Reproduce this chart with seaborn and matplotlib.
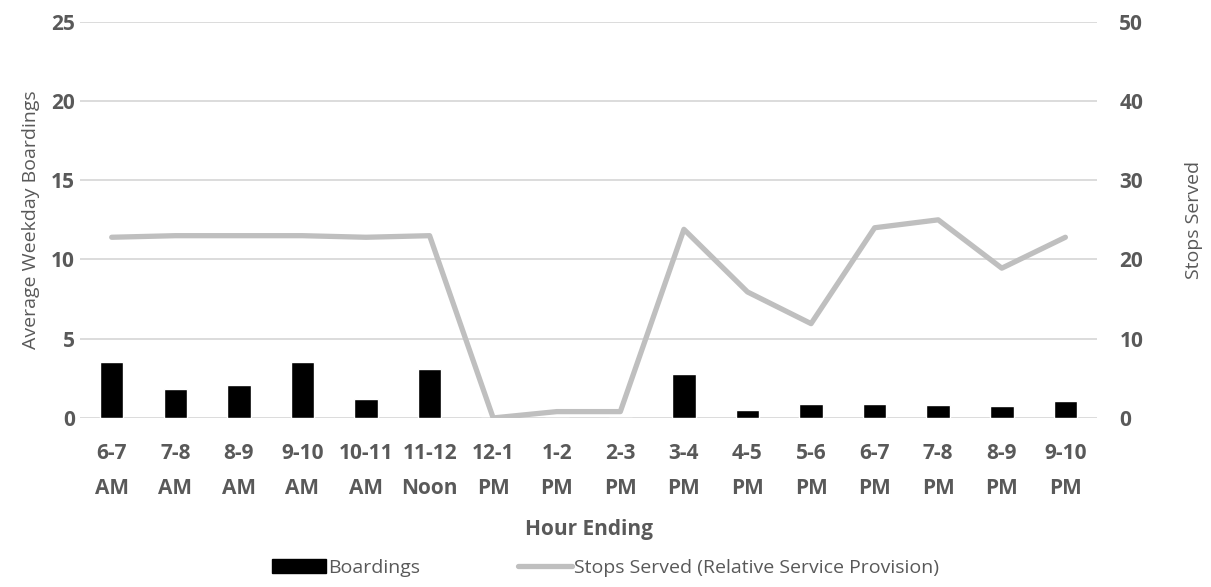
import numpy as np
import pandas as pd
import matplotlib
matplotlib.use('Agg')
import matplotlib.pyplot as plt
from matplotlib.patches import Patch
from matplotlib.lines import Line2D
import seaborn as sns

# chart data
hours = ['6-7\nAM', '7-8\nAM', '8-9\nAM', '9-10\nAM', '10-11\nAM', '11-12\nNoon',
         '12-1\nPM', '1-2\nPM', '2-3\nPM', '3-4\nPM', '4-5\nPM', '5-6\nPM',
         '6-7\nPM', '7-8\nPM', '8-9\nPM', '9-10\nPM']
boardings = [3.5, 1.8, 2.1, 3.5, 1.2, 3.1, 0, 0, 0, 2.75, 0.5, 0.9, 0.9, 0.8, 0.75, 1.05]
stops_served = [22.8, 23, 23, 23, 22.8, 23, 0, 0.8, 0.8, 23.8, 15.9, 11.9, 24, 25, 18.9, 22.8]

sns.set_theme(style='white')
plt.rcParams['font.family'] = ['Open Sans', 'DejaVu Sans']

df = pd.DataFrame({'Hour': hours, 'Boardings': boardings, 'Stops': stops_served})

fig, ax = plt.subplots(figsize=(12.11, 5.87), dpi=100)
fig.subplots_adjust(left=0.066, right=0.906, top=0.963, bottom=0.288)

txt = '#595959'
sns.barplot(data=df, x='Hour', y='Boardings', color='black', width=0.37,
            saturation=1, ax=ax, zorder=3)
ax.set_ylim(0, 25)
ax.set_yticks([0, 5, 10, 15, 20, 25])
ax.set_xlim(-0.5, 15.5)
ax.grid(axis='y', color='#d9d9d9', linewidth=1.3, zorder=0)
ax.set_axisbelow(True)
for s in ax.spines.values():
    s.set_visible(False)
ax.tick_params(axis='both', length=0, labelsize=15, colors=txt)
ax.tick_params(axis='x', pad=18)
for lab in ax.get_xticklabels() + ax.get_yticklabels():
    lab.set_fontweight('bold')
    lab.set_linespacing(1.9)
ax.set_xlabel('Hour Ending', fontsize=15, fontweight='bold', color=txt, labelpad=14)
ax.set_ylabel('Average Weekday Boardings', fontsize=14, color=txt, labelpad=8)

ax2 = ax.twinx()
sns.lineplot(x=np.arange(len(hours)), y=stops_served, color='#bfbfbf', linewidth=3.8,
             ax=ax2, zorder=4)
ax2.set_ylim(0, 50)
ax2.set_yticks([0, 10, 20, 30, 40, 50])
ax2.grid(False)
for s in ax2.spines.values():
    s.set_visible(False)
ax2.tick_params(axis='y', length=0, labelsize=15, colors=txt, pad=16)
for lab in ax2.get_yticklabels():
    lab.set_fontweight('bold')
ax2.set_ylabel('Stops Served', fontsize=14, color=txt, labelpad=30)

handles = [Patch(facecolor='black', edgecolor='black'),
           Line2D([0], [0], color='#bfbfbf', linewidth=3.8)]
leg = fig.legend(handles, ['Boardings', 'Stops Served (Relative Service Provision)'],
                 loc='lower center', bbox_to_anchor=(0.5, -0.012), ncol=2, frameon=False,
                 fontsize=14, handlelength=2.8, handletextpad=0.1, columnspacing=5)
for t in leg.get_texts():
    t.set_color(txt)

fig.savefig('out.png', dpi=100)
